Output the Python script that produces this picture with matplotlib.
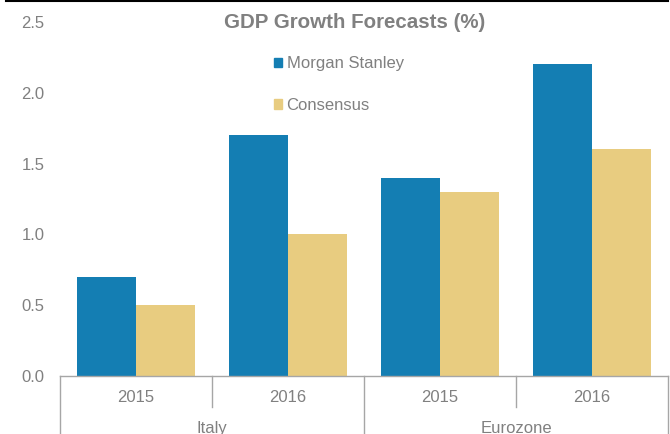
import matplotlib
matplotlib.use("Agg")
import matplotlib.pyplot as plt
import numpy as np
from matplotlib.lines import Line2D
from matplotlib.patches import Patch

plt.rcParams['font.family'] = ['Liberation Sans', 'DejaVu Sans']

years = ["2015", "2016", "2015", "2016"]
regions = ["Italy", "Eurozone"]
morgan_stanley = [0.7, 1.7, 1.4, 2.2]
consensus = [0.5, 1.0, 1.3, 1.6]

BLUE = "#147eb3"
SAND = "#e8cc80"
GREY = "#808080"
RULE = "#a6a6a6"

fig = plt.figure(figsize=(6.7, 4.34), dpi=100)
ax = fig.add_axes([60 / 670, 58 / 434, 608 / 670, 354 / 434])

x = np.arange(len(years))
w = 0.385
ax.bar(x - w / 2, morgan_stanley, w, color=BLUE, label="Morgan Stanley")
ax.bar(x + w / 2, consensus, w, color=SAND, label="Consensus")

ax.set_xlim(-0.5, 3.5)
ax.set_ylim(0, 2.5)
ax.set_yticks(np.arange(0, 2.51, 0.5))
ax.set_yticklabels([f"{v:.1f}" for v in np.arange(0, 2.51, 0.5)])
ax.tick_params(axis='y', length=0, pad=11, labelsize=12, labelcolor=GREY)
ax.set_xticks([])
for s in ["left", "right", "top"]:
    ax.spines[s].set_visible(False)
ax.spines["bottom"].set_color(RULE)
ax.spines["bottom"].set_linewidth(1)

# two-level category axis drawn below the plot
trans = ax.get_xaxis_transform()
for i, yr in enumerate(years):
    ax.text(i, -0.06, yr, transform=trans, ha='center', va='center',
            fontsize=12, color=GREY)
for xb in [-0.5, 1.5, 3.5]:
    ax.add_line(Line2D([xb, xb], [0, -0.17], transform=trans, color=RULE,
                       lw=1, clip_on=False))
for xb in [0.5, 2.5]:
    ax.add_line(Line2D([xb, xb], [0, -0.088], transform=trans, color=RULE,
                       lw=1, clip_on=False))
for j, reg in enumerate(regions):
    ax.text(2 * j + 0.5, -0.147, reg, transform=trans, ha='center',
            va='center', fontsize=12, color=GREY)

ax.set_title("GDP Growth Forecasts (%)", fontsize=14.8, fontweight='bold',
             color=GREY, x=0.484, y=0.976, va='center')

handles = [Patch(color=BLUE, label="Morgan Stanley"),
           Patch(color=SAND, label="Consensus")]
ax.legend(handles=handles, loc='upper left', bbox_to_anchor=(0.352, 0.903),
          frameon=False, fontsize=12, labelcolor=GREY, handlelength=0.5,
          handleheight=0.5, handletextpad=0.25, labelspacing=1.6,
          borderpad=0, borderaxespad=0)

fig.add_artist(Line2D([6 / 670, 668 / 670], [1 - 1 / 434, 1 - 1 / 434],
                      transform=fig.transFigure, color='black', lw=1.5))

fig.savefig("out.png", dpi=100)
